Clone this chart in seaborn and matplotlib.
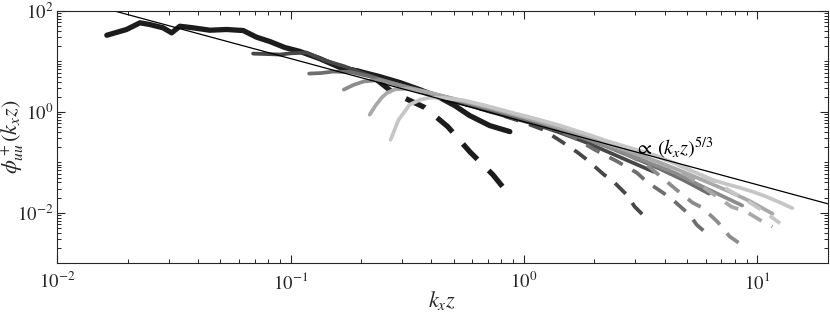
import numpy as np
import pandas as pd
import matplotlib
matplotlib.use("Agg")
import matplotlib.pyplot as plt
from matplotlib.ticker import FixedLocator, LogLocator, NullFormatter, FixedFormatter
import seaborn as sns

# ---------------- data ----------------
d1_solid_x = [0.0163, 0.0198, 0.0226, 0.0249, 0.0284, 0.0309, 0.0335, 0.0382, 0.0451, 0.0531,
              0.0626, 0.0715, 0.0815, 0.0944, 0.109, 0.133, 0.163, 0.198, 0.241, 0.294,
              0.357, 0.436, 0.505, 0.585, 0.713, 0.869]
d1_solid_y = [33.1, 43.0, 58.3, 54.0, 46.4, 36.9, 49.9, 46.4, 41.6, 43.0,
              41.0, 30.2, 24.8, 18.9, 15.9, 11.4, 7.57, 6.3, 5.0, 3.81,
              2.77, 1.92, 1.33, 0.845, 0.535, 0.407]
d1_dash_x = [0.163, 0.198, 0.225, 0.274, 0.376, 0.471, 0.585, 0.735, 0.869]
d1_dash_y = [7.57, 6.3, 5.0, 2.42, 1.22, 0.511, 0.163, 0.057, 0.022]

d2_solid_x = [0.069, 0.08, 0.09, 0.1, 0.117, 0.14, 0.17, 0.2, 0.25, 0.3, 0.4, 0.5, 0.6,
              0.75, 0.9, 1.1, 1.4, 1.8, 2.3, 2.9, 3.6]
d2_solid_y = [14.3, 14.0, 13.7, 14.5, 15.0, 10.5, 8.0, 6.0, 4.2, 3.3, 2.2, 1.65, 1.3,
              0.95, 0.75, 0.58, 0.40, 0.26, 0.16, 0.10, 0.065]
d2_dash_x = [0.5, 0.75, 1.0, 1.2, 1.45, 1.7, 1.86, 2.2, 2.37, 2.75, 2.98, 3.39]
d2_dash_y = [1.65, 0.95, 0.62, 0.45, 0.257, 0.156, 0.113, 0.057, 0.0454, 0.0229, 0.0132, 0.0073]

d3_solid_x = [0.12, 0.135, 0.152, 0.18, 0.22, 0.27, 0.33, 0.4, 0.5, 0.6, 0.75, 0.9, 1.1,
              1.4, 1.8, 2.3, 3.0, 3.8, 4.8, 6.2]
d3_solid_y = [5.75, 5.9, 6.3, 6.2, 5.0, 3.8, 2.9, 2.3, 1.75, 1.4, 1.05, 0.82, 0.62,
              0.44, 0.30, 0.20, 0.12, 0.075, 0.045, 0.024]
d3_dash_x = [0.9, 1.2, 1.6, 2.0, 2.52, 3.04, 3.36, 3.93, 4.34, 5.13, 5.49, 6.37]
d3_dash_y = [0.82, 0.55, 0.33, 0.18, 0.103, 0.0625, 0.041, 0.0252, 0.018, 0.0091, 0.0058, 0.0032]

d4_solid_x = [0.169, 0.185, 0.205, 0.24, 0.3, 0.37, 0.45, 0.55, 0.7, 0.85, 1.0, 1.3, 1.7,
              2.2, 2.8, 3.5, 4.5, 5.6, 7.0, 8.6]
d4_solid_y = [2.77, 3.4, 4.0, 4.3, 3.3, 2.6, 2.05, 1.6, 1.2, 0.95, 0.78, 0.54, 0.35,
              0.22, 0.145, 0.095, 0.06, 0.036, 0.022, 0.014]
d4_dash_x = [1.3, 1.7, 2.2, 2.8, 3.4, 3.9, 4.5, 5.27, 5.82, 6.75, 7.6, 8.97]
d4_dash_y = [0.54, 0.35, 0.22, 0.14, 0.085, 0.05, 0.0286, 0.0159, 0.0126, 0.0066, 0.0034, 0.002]

d5_solid_x = [0.218, 0.23, 0.245, 0.259, 0.28, 0.32, 0.38, 0.45, 0.55, 0.7, 0.9, 1.1, 1.4,
              1.8, 2.3, 3.0, 3.8, 4.8, 6.0, 7.5, 9.3, 11.6]
d5_solid_y = [0.88, 1.3, 1.9, 2.4, 2.8, 2.9, 2.5, 2.05, 1.65, 1.25, 0.9, 0.7, 0.5,
              0.34, 0.23, 0.15, 0.1, 0.065, 0.042, 0.027, 0.017, 0.0096]
d5_dash_x = [2.3, 3.0, 4.0, 5.0, 6.2, 7.74, 8.97, 10.2, 11.6]
d5_dash_y = [0.23, 0.15, 0.09, 0.055, 0.027, 0.0132, 0.0105, 0.0073, 0.0053]

d6_solid_x = [0.268, 0.29, 0.324, 0.36, 0.394, 0.45, 0.55, 0.7, 0.9, 1.1, 1.4, 1.8, 2.3,
              3.0, 3.6, 4.34, 5.3, 6.43, 7.4, 8.39, 9.6, 10.9, 12.5, 14.1]
d6_solid_y = [0.28, 0.7, 1.4, 1.75, 1.92, 1.9, 1.7, 1.3, 0.95, 0.75, 0.55, 0.38, 0.26,
              0.18, 0.14, 0.099, 0.066, 0.045, 0.037, 0.0315, 0.026, 0.021, 0.016, 0.0124]
d6_dash_x = [3.6, 5.0, 6.5, 8.0, 9.5, 11.0, 12.5]
d6_dash_y = [0.14, 0.075, 0.042, 0.024, 0.015, 0.0095, 0.0062]

shades = ["#1c1c1c", "#474747", "#6e6e6e", "#8c8c8c", "#a8a8a8", "#c6c6c6"]

ref_coeff = 0.64
ref_exponent = -1.25
ref_x = [0.01, 20.0]

x_ticks = [1e-2, 1e-1, 1e0, 1e1]
x_ticklabels = [r"$10^{-2}$", r"$10^{-1}$", r"$10^{0}$", r"$10^{1}$"]
y_ticks = [1e-2, 1e0, 1e2]
y_ticklabels = [r"$10^{-2}$", r"$10^{0}$", r"$10^{2}$"]

# ---------------- styling ----------------
sns.set_style("ticks")
plt.rcParams["font.family"] = ["Liberation Serif", "DejaVu Serif"]
plt.rcParams["mathtext.fontset"] = "stix"

fig = plt.figure(figsize=(8.30, 3.13), dpi=100)
ax = fig.add_axes([0.06904, 0.15879, 0.92819, 0.80607])

datasets = [
    (d1_solid_x, d1_solid_y, d1_dash_x, d1_dash_y),
    (d2_solid_x, d2_solid_y, d2_dash_x, d2_dash_y),
    (d3_solid_x, d3_solid_y, d3_dash_x, d3_dash_y),
    (d4_solid_x, d4_solid_y, d4_dash_x, d4_dash_y),
    (d5_solid_x, d5_solid_y, d5_dash_x, d5_dash_y),
    (d6_solid_x, d6_solid_y, d6_dash_x, d6_dash_y),
]

for i, (sx, sy, dx, dy) in enumerate(datasets):
    lw = 3.8 if i == 0 else 2.7
    col = shades[i]
    df_s = pd.DataFrame({"x": sx, "y": sy})
    df_d = pd.DataFrame({"x": dx, "y": dy})
    sns.lineplot(data=df_d, x="x", y="y", ax=ax, color=col, lw=lw,
                 linestyle=(0, (4.0, 3.0)), sort=False, estimator=None, legend=False)
    sns.lineplot(data=df_s, x="x", y="y", ax=ax, color=col, lw=lw,
                 sort=False, estimator=None, legend=False)

ref_y = [ref_coeff * v ** ref_exponent for v in ref_x]
sns.lineplot(x=ref_x, y=ref_y, ax=ax, color="black", lw=0.9, sort=False,
             estimator=None, legend=False)

ax.set_xscale("log")
ax.set_yscale("log")
ax.set_xlim(1e-2, 20)
ax.set_ylim(1e-3, 1e2)

ax.xaxis.set_major_locator(FixedLocator(x_ticks))
ax.xaxis.set_major_formatter(FixedFormatter(x_ticklabels))
ax.xaxis.set_minor_locator(LogLocator(base=10, subs=np.arange(2, 10), numticks=100))
ax.xaxis.set_minor_formatter(NullFormatter())
ax.yaxis.set_major_locator(FixedLocator(y_ticks))
ax.yaxis.set_major_formatter(FixedFormatter(y_ticklabels))
ax.yaxis.set_minor_locator(LogLocator(base=10, subs=np.arange(1, 10), numticks=100))
ax.yaxis.set_minor_formatter(NullFormatter())

spine_col = "#262626"
for s in ax.spines.values():
    s.set_visible(True)
    s.set_color(spine_col)
    s.set_linewidth(0.8)
ax.tick_params(which="both", direction="in", top=True, right=True, colors=spine_col,
               labelcolor="#262626")
ax.tick_params(which="major", length=5.5, width=0.8, labelsize=13.5)
ax.tick_params(axis="x", which="major", pad=6)
ax.tick_params(axis="y", which="major", pad=3)
ax.tick_params(which="minor", length=3.2, width=0.7)

ax.set_xlabel(r"$k_x z$", fontsize=16)
ax.set_ylabel(r"$\phi^+_{uu}(k_x z)$", fontsize=16)
ax.xaxis.set_label_coords(0.5, -0.148)
ax.yaxis.set_label_coords(-0.058, 0.5)
ax.xaxis.label.set_va("center")
ax.yaxis.label.set_va("center")

ax.text(2.98, 0.142, r"$\propto\,(k_x z)^{5/3}$", fontsize=14.5, ha="left", va="baseline",
        color="black")

fig.savefig("out.png", dpi=100)
